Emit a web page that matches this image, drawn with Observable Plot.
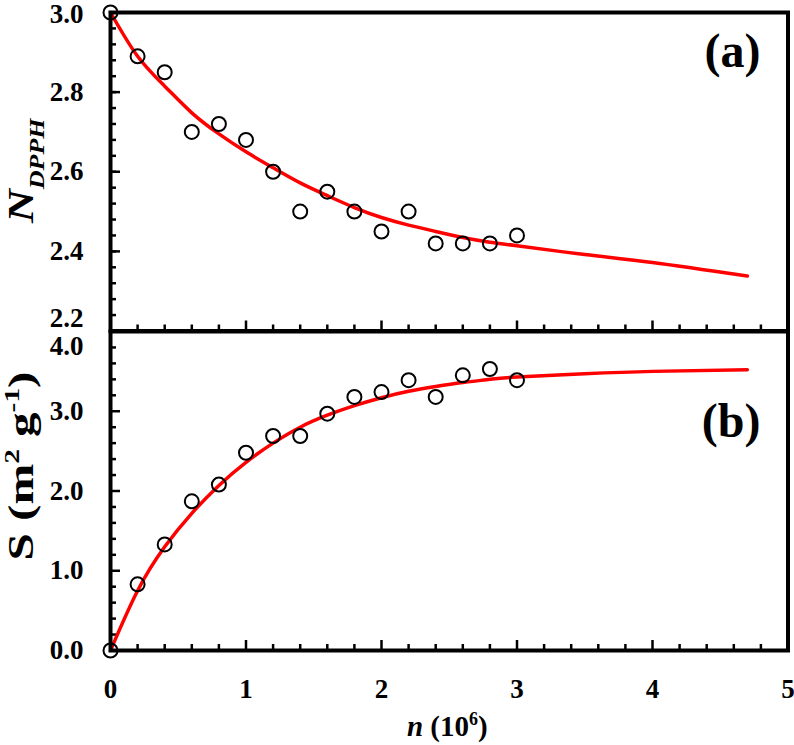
<!DOCTYPE html>
<html>
<head>
<meta charset="utf-8">
<script src="https://cdn.jsdelivr.net/npm/d3@7"></script>
<script src="https://cdn.jsdelivr.net/npm/@observablehq/plot@0.6"></script>
<style>
  body { margin: 0; background: #fff; }
  #chart { width: 794px; height: 745px; }
  #chart svg { display: block; overflow: visible; }
</style>
</head>
<body>
<div id="chart"></div>
<script>
// ---- data ----
const nValues = [0, 0.2, 0.4, 0.6, 0.8, 1.0, 1.2, 1.4, 1.6, 1.8, 2.0, 2.2, 2.4, 2.6, 2.8, 3.0];
const nDPPH = [3.00, 2.89, 2.85, 2.70, 2.72, 2.68, 2.60, 2.50, 2.55, 2.50, 2.45, 2.50, 2.42, 2.42, 2.42, 2.44];
const surfaceS = [0.00, 0.83, 1.33, 1.87, 2.08, 2.48, 2.69, 2.69, 2.97, 3.18, 3.24, 3.39, 3.18, 3.45, 3.53, 3.39];

const fitN = [0, 0.2, 0.4, 0.6, 0.8, 1.0, 1.2, 1.4, 1.6, 1.8, 2.0, 2.2, 2.4, 2.6, 2.8, 3.0, 3.5, 4.0, 4.7];
const fitNDPPH = [3.00, 2.89, 2.815, 2.748, 2.695, 2.65, 2.61, 2.572, 2.54, 2.51, 2.485, 2.466, 2.45, 2.435, 2.423, 2.414, 2.392, 2.372, 2.338];
const fitS = [0.00, 0.75, 1.30, 1.72, 2.07, 2.36, 2.60, 2.80, 2.95, 3.07, 3.17, 3.25, 3.31, 3.36, 3.40, 3.43, 3.47, 3.50, 3.52];

const xTickLabels = [0, 1, 2, 3, 4, 5];
const topTickLabels = [2.2, 2.4, 2.6, 2.8, 3.0];
const bottomTickLabels = [0, 1, 2, 3, 4];

const panelLabelA = "(a)";
const panelLabelB = "(b)";
const yTitleTop = "N_DPPH";
const yTitleBottom = "S_AREA";
const xTitle = "N_COUNT";

// ---- layout ----
const W = 794, ML = 110, MR = 6.5;
const FW = W - ML - MR;
const topH = 331, topMT = 12, topMB = 0.5, topFH = topH - topMT - topMB;
const botH = 414, botMT = 0, botMB = 95, botFH = botH - botMT - botMB;
const font = "'Liberation Serif', 'Times New Roman', serif";
const minorLen = 6, majorLen = 10, tickW = 2.5;

const xMinor = d3.range(0, 5.0001, 0.2).map(v => +v.toFixed(2)).filter(v => !Number.isInteger(v));
const topMinor = d3.range(2.2, 3.0001, 0.04).map(v => +v.toFixed(2));
const botMinor = d3.range(0, 4.0001, 0.2).map(v => +v.toFixed(2)).filter(v => !Number.isInteger(v));

const pts = nValues.map((n, i) => ({n, a: nDPPH[i], s: surfaceS[i]}));
const fit = fitN.map((n, i) => ({n, a: fitNDPPH[i], s: fitS[i]}));

const svgStyle = {fontFamily: font, fontSize: "27px", fontWeight: "bold", background: "transparent", overflow: "visible", color: "black"};

const topPlot = Plot.plot({
  width: W, height: topH,
  marginLeft: ML, marginRight: MR, marginTop: topMT, marginBottom: topMB,
  style: svgStyle,
  x: {domain: [0, 5], axis: null},
  y: {domain: [2.2, 3.0], axis: null},
  marks: [
    Plot.ruleY(topMinor, {y: d => d, stroke: "black", strokeWidth: tickW, insetRight: FW - minorLen}),
    Plot.ruleY(topTickLabels, {y: d => d, stroke: "black", strokeWidth: tickW, insetRight: FW - majorLen}),
    Plot.ruleX(xMinor, {x: d => d, stroke: "black", strokeWidth: tickW, insetTop: topFH - minorLen}),
    Plot.ruleX(xTickLabels, {x: d => d, stroke: "black", strokeWidth: tickW, insetTop: topFH - majorLen}),
    Plot.line(fit, {x: "n", y: "a", stroke: "#ff0000", strokeWidth: 3.5, curve: "natural"}),
    Plot.dot(pts, {x: "n", y: "a", r: 7, stroke: "black", strokeWidth: 2, fill: "none"}),
    Plot.frame({stroke: "black", strokeWidth: 4}),
    Plot.axisY(topTickLabels.filter(d => d !== 2.2 && d !== 3.0), {tickSize: 0, tickPadding: 27, tickFormat: d => d.toFixed(1), label: null}),
    Plot.axisY([3.0], {tickSize: 0, tickPadding: 27, tickFormat: d => d.toFixed(1), label: null, dy: 2}),
    Plot.axisY([2.2], {tickSize: 0, tickPadding: 27, tickFormat: d => d.toFixed(1), label: null, dy: -13}),
    Plot.text([panelLabelA], {text: d => d, frameAnchor: "top-right", textAnchor: "end", lineAnchor: "top", dx: -27.5, dy: 20, fontSize: 48, fontWeight: "bold"}),
    Plot.text([yTitleTop], {text: d => d, frameAnchor: "left", rotate: -90, textAnchor: "middle", lineAnchor: "bottom", dx: -78, dy: -1, fontSize: 36, fontWeight: "bold"})
  ]
});

const bottomPlot = Plot.plot({
  width: W, height: botH,
  marginLeft: ML, marginRight: MR, marginTop: botMT, marginBottom: botMB,
  style: svgStyle,
  x: {domain: [0, 5], axis: null},
  y: {domain: [0, 4], axis: null},
  marks: [
    Plot.ruleY(botMinor, {y: d => d, stroke: "black", strokeWidth: tickW, insetRight: FW - minorLen}),
    Plot.ruleY(bottomTickLabels, {y: d => d, stroke: "black", strokeWidth: tickW, insetRight: FW - majorLen}),
    Plot.ruleX(xMinor, {x: d => d, stroke: "black", strokeWidth: tickW, insetTop: botFH - minorLen}),
    Plot.ruleX(xTickLabels, {x: d => d, stroke: "black", strokeWidth: tickW, insetTop: botFH - majorLen}),
    Plot.line(fit, {x: "n", y: "s", stroke: "#ff0000", strokeWidth: 3.5, curve: "natural"}),
    Plot.dot(pts, {x: "n", y: "s", r: 7, stroke: "black", strokeWidth: 2, fill: "none"}),
    Plot.frame({stroke: "black", strokeWidth: 4}),
    Plot.axisY(bottomTickLabels.filter(d => d !== 4), {tickSize: 0, tickPadding: 27, tickFormat: d => d.toFixed(1), label: null}),
    Plot.axisY([4], {tickSize: 0, tickPadding: 27, tickFormat: d => d.toFixed(1), label: null, dy: 15}),
    Plot.axisX(xTickLabels, {tickSize: 0, tickPadding: 28, tickFormat: d => String(d), label: null}),
    Plot.text([panelLabelB], {text: d => d, frameAnchor: "top-right", textAnchor: "end", lineAnchor: "top", dx: -27.5, dy: 71, fontSize: 48, fontWeight: "bold"}),
    Plot.text([yTitleBottom], {text: d => d, frameAnchor: "left", rotate: -90, textAnchor: "middle", lineAnchor: "bottom", dx: -78, dy: -25, fontSize: 35, fontWeight: "bold"}),
    Plot.text([xTitle], {text: d => d, frameAnchor: "bottom", textAnchor: "middle", lineAnchor: "bottom", dx: -2, dy: 85, fontSize: 29, fontWeight: "bold"})
  ]
});

// ---- rich text (sub/superscripts) ----
const NS = "http://www.w3.org/2000/svg";
function richText(svg, placeholder, parts, stretch) {
  for (const t of svg.querySelectorAll("text")) {
    if (t.textContent !== placeholder) continue;
    t.textContent = "";
    for (const p of parts) {
      const ts = document.createElementNS(NS, "tspan");
      ts.textContent = p.text;
      if (p.size) ts.setAttribute("font-size", p.size);
      if (p.style) ts.setAttribute("font-style", p.style);
      if (p.dy) ts.setAttribute("dy", p.dy);
      t.appendChild(ts);
    }
    if (stretch) {
      const tr = t.getAttribute("transform") || "";
      t.setAttribute("transform", tr + ` scale(${stretch},1)`);
    }
  }
}
richText(topPlot, yTitleTop, [
  {text: "N", size: 36, style: "italic"},
  {text: "DPPH", size: 20, style: "italic", dy: 11}
], 1.3);
richText(bottomPlot, yTitleBottom, [
  {text: "S (m", size: 35},
  {text: "2", size: 21, dy: -14},
  {text: " g", size: 35, dy: 14},
  {text: "-1", size: 21, dy: -14},
  {text: ")", size: 35, dy: 14}
], 1.4);
richText(bottomPlot, xTitle, [
  {text: "n", style: "italic"},
  {text: " (10"},
  {text: "6", size: 18, dy: -11},
  {text: ")", dy: 11}
], null);

document.getElementById("chart").append(topPlot, bottomPlot);
</script>
</body>
</html>
